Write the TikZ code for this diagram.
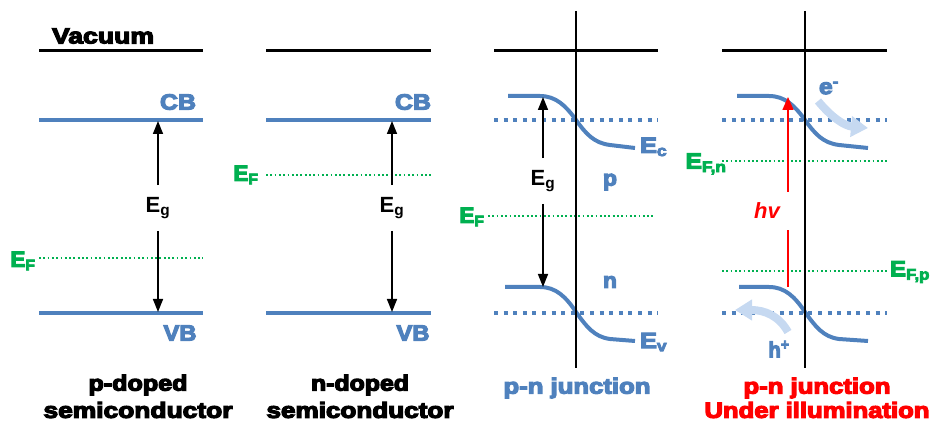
\documentclass[tikz,border=0pt]{standalone}
\usepackage{fontspec}
\setmainfont{Liberation Sans}
\newfontfamily\heavy[FakeBold=5]{Liberation Sans Bold}
\usetikzlibrary{arrows.meta,calc}
\definecolor{bandblue}{HTML}{4F81BD}
\definecolor{fgreen}{HTML}{00B050}
\definecolor{lblue}{HTML}{C6D9F1}
\definecolor{ired}{HTML}{FF0000}
\newcommand\fitw[2]{\resizebox{#1pt}{\height}{#2}}
\begin{document}
\begin{tikzpicture}[x=1pt,y=-1pt,
  vac/.style={line width=3pt,black},
  band/.style={line width=3.5pt,bandblue},
  bcurve/.style={line width=4pt,bandblue},
  bdot/.style={line width=4pt,bandblue,dash pattern=on 4pt off 5.6pt},
  gdot/.style={line width=1.8pt,fgreen,dash pattern=on 1.8pt off 2.5pt},
  junc/.style={line width=1.4pt,black},
  gaparrow/.style={line width=1.5pt,black,-{Triangle[length=13pt,width=10pt]}},
  lbl/.style={font=\heavy\fontsize{22}{25}\selectfont,inner sep=0pt,align=center},
  eglbl/.style={font=\bfseries\fontsize{22}{26}\selectfont,inner xsep=0pt,inner ysep=12pt},
  carrier/.style={line width=8pt,lblue,-{Triangle[length=17pt,width=20pt]}}
]
\useasboundingbox (0,0) rectangle (930,427);

% ---------- panel 1: p-doped ----------
\draw[vac] (39,51) coordinate (v1a) -- (203,51) coordinate (v1b);
\node[lbl] (vac) at (103,36) {\fitw{102}{Vacuum}};
\draw[band] (39,120) coordinate (c1a) -- (203,120) coordinate (c1b);
\node[lbl,bandblue] (cb1) at (178,102) {\fitw{36}{CB}};
\draw[band] (39,313) coordinate (b1a) -- (203,313) coordinate (b1b);
\node[lbl,bandblue] (vb1) at (180,333) {\fitw{33}{VB}};
\draw[gdot] (39,258) coordinate (f1a) -- (203,258) coordinate (f1b);
\node[lbl,fgreen] (ef1) at (23,261) {\fitw{25}{E\textsubscript{F}}};
\node[eglbl] (eg1) at (158,208) {E\textsubscript{g}};
\coordinate (cb1t) at (158,121);
\coordinate (vb1t) at (158,312);
\draw[gaparrow] (eg1.north) -- (cb1t);
\draw[gaparrow] (eg1.south) -- (vb1t);
\node[lbl] (t1a) at (138,385) {\fitw{99}{p-doped}};
\node[lbl] (t1b) at (138,410) {\fitw{189}{semiconductor}};

% ---------- panel 2: n-doped ----------
\draw[vac] (266,51) coordinate (v2a) -- (431,51) coordinate (v2b);
\draw[band] (266,120) coordinate (c2a) -- (431,120) coordinate (c2b);
\node[lbl,bandblue] (cb2) at (413,102) {\fitw{36}{CB}};
\draw[band] (266,313) coordinate (b2a) -- (431,313) coordinate (b2b);
\node[lbl,bandblue] (vb2) at (413,333) {\fitw{33}{VB}};
\draw[gdot] (266,175) coordinate (f2a) -- (431,175) coordinate (f2b);
\node[lbl,fgreen] (ef2) at (246,175) {\fitw{25}{E\textsubscript{F}}};
\node[eglbl] (eg2) at (392,208) {E\textsubscript{g}};
\coordinate (cb2t) at (392,121);
\coordinate (vb2t) at (392,312);
\draw[gaparrow] (eg2.north) -- (cb2t);
\draw[gaparrow] (eg2.south) -- (vb2t);
\node[lbl] (t2a) at (360,385) {\fitw{98}{n-doped}};
\node[lbl] (t2b) at (360,410) {\fitw{187}{semiconductor}};

% ---------- panel 3: p-n junction ----------
\draw[vac] (494,51) coordinate (v3a) -- (658,51) coordinate (v3b);
\draw[bdot] (494,120) coordinate (d3a) -- (658,120) coordinate (d3b);
\draw[bdot] (494,313) coordinate (d3c) -- (658,313) coordinate (d3d);
\draw[gdot] (488,216) coordinate (f3a) -- (653,216) coordinate (f3b);
\begin{scope}[shift={(576,96)}]
  \draw[bcurve] (-68,0) -- (-36,0) .. controls (-20,0) and (-10,10) .. (0,24)
     .. controls (10,38) and (18,47) .. (34,49) -- (59,52);
\end{scope}
\begin{scope}[shift={(576,287)}]
  \draw[bcurve] (-71,0) -- (-36,0) .. controls (-20,0) and (-10,10) .. (0,25)
     .. controls (10,39) and (18,50) .. (34,52) -- (59,54);
\end{scope}
\draw[junc] (576,11) coordinate (j3a) -- (576,368) coordinate (j3b);
\node[lbl,bandblue,anchor=west] (ec) at (640,147) {\fitw{27}{E\textsubscript{c}}};
\node[lbl,bandblue,anchor=west] (ev) at (640,342) {\fitw{27}{E\textsubscript{v}}};
\node[lbl,bandblue] (p3) at (610,182) {\fitw{14}{p}};
\node[lbl,bandblue] (n3) at (610,282) {\fitw{14}{n}};
\node[lbl,fgreen] (ef3) at (472,217) {\fitw{25}{E\textsubscript{F}}};
\node[eglbl] (eg3) at (543,181) {E\textsubscript{g}};
\coordinate (cb3t) at (543,97);
\coordinate (vb3t) at (543,287);
\draw[gaparrow] (eg3.north) -- (cb3t);
\draw[gaparrow] (eg3.south) -- (vb3t);
\node[lbl,bandblue] (t3) at (577,388) {\fitw{147}{p-n junction}};

% ---------- panel 4: p-n junction under illumination ----------
\draw[vac] (722,51) coordinate (v4a) -- (887,51) coordinate (v4b);
\draw[bdot] (722,120) coordinate (d4a) -- (887,120) coordinate (d4b);
\draw[bdot] (722,313) coordinate (d4c) -- (887,313) coordinate (d4d);
\draw[gdot] (722,161) coordinate (f4a) -- (887,161) coordinate (f4b);
\draw[gdot] (722,271) coordinate (f4c) -- (887,271) coordinate (f4d);
\begin{scope}[shift={(805,96)}]
  \draw[bcurve] (-68,0) -- (-36,0) .. controls (-20,0) and (-10,10) .. (0,24)
     .. controls (10,38) and (18,47) .. (34,49) -- (63,52);
\end{scope}
\begin{scope}[shift={(805,287)}]
  \draw[bcurve] (-66,0) -- (-36,0) .. controls (-20,0) and (-10,10) .. (0,25)
     .. controls (10,39) and (18,50) .. (34,52) -- (63,54);
\end{scope}
\draw[carrier] (818,101) coordinate (e1) .. controls (832,118) and (845,126) .. (868,128) coordinate (e2);
\draw[carrier] (788,332) coordinate (h1) .. controls (779,316) and (765,310) .. (735,310) coordinate (h2);
\draw[junc] (805,11) coordinate (j4a) -- (805,368) coordinate (j4b);
\node[lbl,fgreen] (efn) at (706,164) {\fitw{41}{E\textsubscript{F,n}}};
\node[lbl,fgreen] (efp) at (910,272) {\fitw{40}{E\textsubscript{F,p}}};
\node[lbl,bandblue] (em) at (829,88) {\fitw{20}{e\textsuperscript{-}}};
\node[lbl,bandblue] (hp) at (779,349) {\fitw{21}{h\textsuperscript{+}}};
\node[font=\bfseries\itshape\fontsize{22}{26}\selectfont,ired,inner xsep=0pt,inner ysep=11pt] (hv) at (767,211) {hv};
\coordinate (hvt) at (788,97);
\coordinate (hvb) at (788,287);
\draw[ired,line width=1.5pt,-{Triangle[length=13pt,width=11pt]}] (hv.north -| hvt) -- (hvt);
\draw[ired,line width=1.5pt] (hv.south -| hvb) -- (hvb);
\node[lbl,ired] (t4a) at (817,388) {\fitw{147}{p-n junction}};
\node[lbl,ired] (t4b) at (817,410) {\fitw{225}{Under illumination}};
\end{tikzpicture}
\end{document}
